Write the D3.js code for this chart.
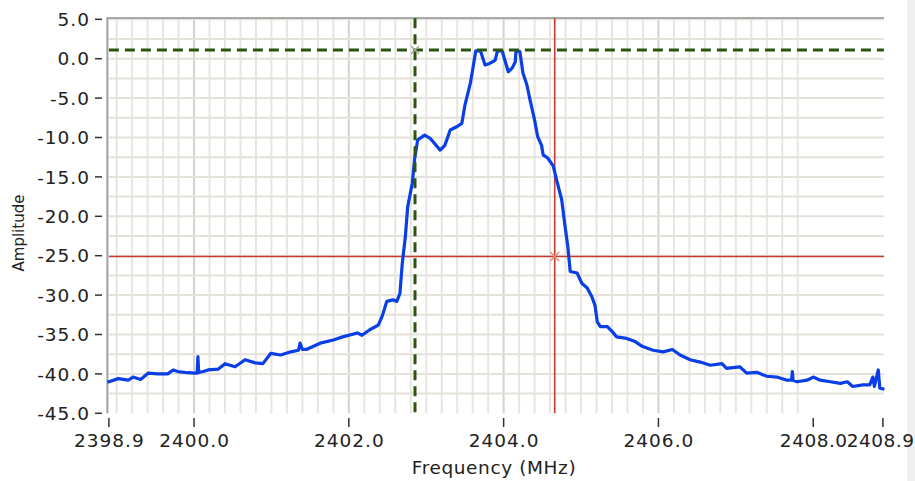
<!DOCTYPE html>
<html><head><meta charset="utf-8">
<script src="https://cdn.jsdelivr.net/npm/d3@7"></script>
<style>html,body{margin:0;padding:0;background:#fff;overflow:hidden}</style>
</head><body>
<svg id="chart" width="915" height="481"></svg>
<script>
// ---- data ----
const freq = [2398.90,2399.02,2399.15,2399.21,2399.31,2399.41,2399.53,2399.66,2399.73,2399.79,2399.92,2400.01,2400.04,2400.05,2400.06,2400.12,2400.18,2400.31,2400.40,2400.53,2400.66,2400.79,2400.89,2400.99,2401.12,2401.25,2401.35,2401.37,2401.40,2401.45,2401.63,2401.80,2401.92,2402.11,2402.17,2402.27,2402.38,2402.43,2402.49,2402.57,2402.62,2402.66,2402.69,2402.73,2402.76,2402.82,2402.85,2402.89,2402.98,2403.05,2403.18,2403.24,2403.31,2403.40,2403.46,2403.50,2403.57,2403.60,2403.64,2403.70,2403.76,2403.82,2403.89,2403.92,2403.98,2404.06,2404.11,2404.15,2404.16,2404.21,2404.25,2404.30,2404.34,2404.40,2404.44,2404.49,2404.51,2404.57,2404.64,2404.69,2404.75,2404.79,2404.83,2404.86,2404.95,2405.01,2405.08,2405.14,2405.18,2405.21,2405.25,2405.34,2405.40,2405.46,2405.59,2405.70,2405.79,2405.93,2406.06,2406.18,2406.28,2406.41,2406.54,2406.67,2406.82,2406.88,2407.05,2407.14,2407.27,2407.40,2407.53,2407.66,2407.72,2407.73,2407.74,2407.79,2407.92,2408.00,2408.09,2408.22,2408.35,2408.44,2408.51,2408.64,2408.73,2408.77,2408.79,2408.84,2408.86,2408.90];
const amp = [-41.0,-40.6,-40.8,-40.4,-40.7,-39.9,-40.0,-40.0,-39.5,-39.7,-39.85,-39.9,-39.9,-37.8,-39.8,-39.7,-39.5,-39.4,-38.7,-39.1,-38.2,-38.6,-38.7,-37.4,-37.6,-37.2,-37.0,-36.1,-36.9,-36.9,-36.1,-35.7,-35.3,-34.8,-35.1,-34.4,-33.8,-32.7,-30.8,-30.6,-30.8,-29.8,-26.0,-22.6,-18.8,-15.8,-12.7,-10.3,-9.7,-10.1,-11.6,-11.0,-9.05,-8.6,-8.2,-5.9,-3.1,-1.4,1.0,1.0,-0.8,-0.6,-0.2,1.0,1.0,-1.65,-1.2,-0.4,1.0,0.9,-1.85,-3.3,-5.2,-7.8,-9.9,-11.0,-12.2,-12.6,-13.6,-15.6,-17.9,-21.0,-23.9,-27.0,-27.2,-28.5,-29.1,-30.2,-31.3,-33.4,-34.0,-34.0,-34.6,-35.3,-35.5,-35.9,-36.5,-37.0,-37.2,-36.9,-37.6,-38.2,-38.5,-38.9,-38.7,-39.3,-39.1,-39.9,-39.8,-40.3,-40.4,-40.8,-40.8,-39.7,-40.8,-41.0,-40.8,-40.4,-40.8,-41.0,-41.2,-41.0,-41.6,-41.4,-41.4,-40.4,-41.6,-39.5,-41.8,-41.9];
const xTickValues = [2398.9, 2400.0, 2402.0, 2404.0, 2406.0, 2408.0, 2408.9];
const yTickValues = [5, 0, -5, -10, -15, -20, -25, -30, -35, -40, -45];
const cursorGreen = {f: 2402.855, a: 1.1};
const cursorRed = {f: 2404.66, a: -25.1};
const xTitle = "Frequency (MHz)";
const yTitle = "Amplitude";

// ---- layout ----
const svg = d3.select("#chart");
const L = 108.9, R = 882.9, T = 19.3, B = 413.3;
const x = d3.scaleLinear().domain([2398.9, 2408.9]).range([L, R]);
const y = d3.scaleLinear().domain([-45, 5]).range([B, T]);
const FONT = "DejaVu Sans, Verdana, sans-serif";

// right gray strip
svg.append("rect").attr("x", 907).attr("y", 0).attr("width", 8).attr("height", 481).attr("fill", "#efefef");

// grid
const g = svg.append("g");
const vMinor = d3.range(0, 45).map(i => 2399.0 + i * 0.2).filter(v => v < 2408.9);
vMinor.forEach(v => {
  const major = Math.abs(((v - 2400) / 2) - Math.round((v - 2400) / 2)) < 1e-6;
  g.append("line").attr("x1", x(v)).attr("x2", x(v)).attr("y1", T - 1).attr("y2", B)
    .attr("stroke", major ? "#d6d2ca" : "#e8e5de").attr("stroke-width", 2);
});
d3.range(0, 20).map(i => 5 - i * 2.5).forEach(v => {
  g.append("line").attr("x1", L).attr("x2", R + 1).attr("y1", y(v)).attr("y2", y(v))
    .attr("stroke", "#e4e1da").attr("stroke-width", 2);
});

// frame
svg.append("line").attr("x1", L - 1.5).attr("x2", R + 1).attr("y1", 18).attr("y2", 18).attr("stroke", "#a9a9a9").attr("stroke-width", 2);
svg.append("line").attr("x1", L - 1.5).attr("x2", L - 1.5).attr("y1", 17).attr("y2", B).attr("stroke", "#a0a0a0").attr("stroke-width", 2);

// y axis ticks & labels
yTickValues.forEach(v => {
  svg.append("line").attr("x1", 95).attr("x2", 102).attr("y1", y(v)).attr("y2", y(v)).attr("stroke", "#333").attr("stroke-width", 1.5);
  svg.append("text").attr("x", 90).attr("y", y(v)).attr("dy", "0.36em").attr("text-anchor", "end")
    .attr("font-family", FONT).attr("font-size", 18.5).attr("letter-spacing", "1px").attr("fill", "#222").text(v.toFixed(1));
});
// x axis ticks & labels
xTickValues.forEach((v, i) => {
  const n = xTickValues.length;
  const last = i === n - 1, prev = i === n - 2;
  svg.append("line").attr("x1", x(v)).attr("x2", x(v)).attr("y1", 418).attr("y2", 427).attr("stroke", "#333").attr("stroke-width", 1.5);
  svg.append("text").attr("x", last ? 914.5 : x(v) + 0.5).attr("y", 447).attr("text-anchor", last ? "end" : "middle")
    .attr("font-family", FONT).attr("font-size", 18.5).attr("letter-spacing", (last || prev) ? "0.5px" : "1px").attr("fill", "#222").text(v.toFixed(1));
});
svg.append("text").attr("x", 494).attr("y", 474).attr("text-anchor", "middle")
  .attr("font-family", FONT).attr("font-size", 18.5).attr("letter-spacing", "0.6px").attr("fill", "#222").text(xTitle);
svg.append("text").attr("transform", "translate(24,233) rotate(-90)").attr("text-anchor", "middle")
  .attr("font-family", FONT).attr("font-size", 15).attr("fill", "#222").text(yTitle);

// red cursor (below trace)
svg.append("line").attr("x1", x(cursorRed.f)).attr("x2", x(cursorRed.f)).attr("y1", T - 1).attr("y2", B)
  .attr("stroke", "#c43a30").attr("stroke-width", 1.6);
svg.append("line").attr("x1", L).attr("x2", R + 1).attr("y1", y(cursorRed.a)).attr("y2", y(cursorRed.a))
  .attr("stroke", "#c43a30").attr("stroke-width", 1.6);

// trace
const pts = freq.map((f, i) => [f, amp[i]]);
svg.append("path").datum(pts)
  .attr("d", d3.line().x(d => x(d[0])).y(d => y(d[1])))
  .attr("fill", "none").attr("stroke", "#0a3ee6").attr("stroke-width", 3.2)
  .attr("stroke-linejoin", "round").attr("stroke-linecap", "square");

// green cursor (above trace)
svg.append("line").attr("x1", x(cursorGreen.f)).attr("x2", x(cursorGreen.f)).attr("y1", T - 1).attr("y2", B)
  .attr("stroke", "#2b5410").attr("stroke-width", 3).attr("stroke-dasharray", "10,6");
svg.append("line").attr("x1", L).attr("x2", R + 1).attr("y1", y(cursorGreen.a)).attr("y2", y(cursorGreen.a))
  .attr("stroke", "#2b5410").attr("stroke-width", 3).attr("stroke-dasharray", "10,6");

// cursor markers
function xMark(cx, cy, color, s) {
  svg.append("path").attr("d", `M${cx - s},${cy - s}L${cx + s},${cy + s}M${cx - s},${cy + s}L${cx + s},${cy - s}`)
    .attr("stroke", color).attr("stroke-width", 1.5).attr("fill", "none");
}
xMark(x(cursorGreen.f), y(cursorGreen.a), "#a8aa98", 4);
xMark(x(cursorRed.f), y(cursorRed.a), "#e0908a", 4.5);
</script>
</body></html>
